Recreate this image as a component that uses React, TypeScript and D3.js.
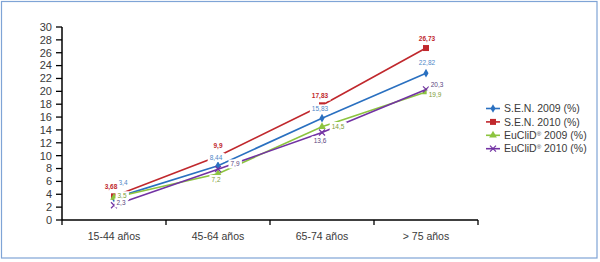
import React, { useEffect, useRef } from "react";
import * as d3 from "d3";

const categories = ["15-44 años", "45-64 años", "65-74 años", "> 75 años"];
const sen2009 = [3.4, 8.44, 15.83, 22.82];
const sen2010 = [3.68, 9.9, 17.83, 26.73];
const euclid2009 = [3.5, 7.2, 14.5, 19.9];
const euclid2010 = [2.3, 7.9, 13.6, 20.3];
const yTicks = [0, 2, 4, 6, 8, 10, 12, 14, 16, 18, 20, 22, 24, 26, 28, 30];
const seriesNames = ["S.E.N. 2009 (%)", "S.E.N. 2010 (%)", "EuCliD® 2009 (%)", "EuCliD® 2010 (%)"];

// label offsets (dx, dy) relative to each point
const labelOffsets = [
  [[9, -15], [-2, -8], [-2, -9], [1, -10]],
  [[-3, -10], [0, -10.5], [-2, -10], [1, -9]],
  [[8, -1.5], [-2, 6], [16, 0], [9, 3]],
  [[7, -2], [17, -5], [-2, 8.5], [11, -5]],
];

const lineColors = ["#2a70c0", "#c0282d", "#8cc43f", "#7232a3"];
const labelColors = ["#5088c8", "#c0282d", "#7d9c38", "#5a4680"];
const markers = ["diamond", "square", "triangle", "cross"];

export default function App() {
  const ref = useRef<SVGSVGElement>(null);

  useEffect(() => {
    const svg = d3.select(ref.current);
    svg.selectAll("*").remove();
    const W = 600, H = 262;
    const left = 62, right = 478, top = 27, bottom = 220;
    const font = "'Liberation Sans', Arial, sans-serif";

    svg.append("rect").attr("x", 1.5).attr("y", 1.5).attr("width", W - 4.5).attr("height", H - 5.5)
      .attr("fill", "white").attr("stroke", "#7fa4d6").attr("stroke-width", 1.2);

    const x = d3.scaleBand<string>().domain(categories).range([left, right]);
    const y = d3.scaleLinear().domain([0, 30]).range([bottom, top]);

    const g = svg.append("g");
    g.append("line").attr("x1", left).attr("x2", left).attr("y1", top).attr("y2", bottom)
      .attr("stroke", "#000").attr("stroke-width", 1.5);
    yTicks.forEach((t) => {
      g.append("line").attr("x1", left - 6).attr("x2", left).attr("y1", y(t)).attr("y2", y(t))
        .attr("stroke", "#000").attr("stroke-width", 1.3);
      g.append("text").attr("x", left - 10).attr("y", y(t)).attr("dy", "0.35em")
        .attr("text-anchor", "end").attr("font-family", font).attr("font-size", 11)
        .attr("fill", "#3a3a3a").text(String(t));
    });
    g.append("line").attr("x1", left).attr("x2", right).attr("y1", bottom).attr("y2", bottom)
      .attr("stroke", "#000").attr("stroke-width", 1.5);
    const bounds = categories.map((c) => x(c) as number).concat([right]);
    bounds.forEach((b) => {
      g.append("line").attr("x1", b).attr("x2", b).attr("y1", bottom).attr("y2", bottom + 5)
        .attr("stroke", "#000").attr("stroke-width", 1.3);
    });
    categories.forEach((c) => {
      g.append("text").attr("x", (x(c) as number) + x.bandwidth() / 2).attr("y", bottom + 20)
        .attr("text-anchor", "middle").attr("font-family", font).attr("font-size", 10.5)
        .attr("fill", "#3a3a3a").text(c);
    });

    const allSeries = [sen2009, sen2010, euclid2009, euclid2010];
    const cx = (i: number) => (x(categories[i]) as number) + x.bandwidth() / 2;

    const drawMarker = (sel: any, kind: string, px: number, py: number, color: string) => {
      if (kind === "diamond") {
        sel.append("path").attr("d", d3.symbol(d3.symbolDiamond, 22)()).attr("transform", `translate(${px},${py})`).attr("fill", color);
      } else if (kind === "square") {
        sel.append("rect").attr("x", px - 3).attr("y", py - 3).attr("width", 6).attr("height", 6).attr("fill", color);
      } else if (kind === "triangle") {
        sel.append("path").attr("d", d3.symbol(d3.symbolTriangle, 26)()).attr("transform", `translate(${px},${py})`).attr("fill", color);
      } else {
        sel.append("path").attr("d", `M${px - 3},${py - 3}L${px + 3},${py + 3}M${px - 3},${py + 3}L${px + 3},${py - 3}`)
          .attr("stroke", color).attr("stroke-width", 1.2);
      }
    };

    const line = d3.line<number>().x((_, i) => cx(i)).y((v) => y(v));
    const plot = svg.append("g");
    allSeries.forEach((s, si) => {
      plot.append("path").attr("d", line(s)).attr("fill", "none").attr("stroke", lineColors[si]).attr("stroke-width", 1.6);
    });
    allSeries.forEach((s, si) => {
      s.forEach((v, i) => drawMarker(plot, markers[si], cx(i), y(v), lineColors[si]));
    });

    const lab = svg.append("g");
    allSeries.forEach((s, si) => {
      s.forEach((v, i) => {
        const [dx, dy] = labelOffsets[si][i];
        const tx = cx(i) + dx, ty = y(v) + dy;
        const bg = lab.append("rect").attr("fill", "white");
        const t = lab.append("text").attr("x", tx).attr("y", ty).attr("dy", "0.35em")
          .attr("text-anchor", "middle").attr("font-family", font).attr("font-size", 6.5)
          .attr("font-weight", si === 1 ? "bold" : "normal")
          .attr("fill", labelColors[si]).text(String(v).replace(".", ","));
        const bb = (t.node() as SVGTextElement).getBBox();
        bg.attr("x", bb.x - 2).attr("y", bb.y - 1).attr("width", bb.width + 4).attr("height", bb.height + 2);
      });
    });

    const leg = svg.append("g");
    seriesNames.forEach((n, si) => {
      const ly = 108.5 + si * 13.4;
      leg.append("line").attr("x1", 486).attr("x2", 500).attr("y1", ly).attr("y2", ly)
        .attr("stroke", lineColors[si]).attr("stroke-width", 1.6);
      drawMarker(leg, markers[si], 493, ly, lineColors[si]);
      const t = leg.append("text").attr("x", 504).attr("y", ly + 3.7)
        .attr("font-family", font).attr("font-size", 10.5).attr("fill", "#3a3a3a");
      if (n.includes("®")) {
        const [a, b] = n.split("®");
        t.append("tspan").text(a);
        t.append("tspan").attr("font-size", 6).attr("dy", -3.5).text("®");
        t.append("tspan").attr("dy", 3.5).text(b);
      } else {
        t.text(n);
      }
    });
  }, []);

  return (
    <svg ref={ref} width={600} height={262}
      style={{ position: "absolute", left: 0, top: 0, display: "block", background: "white" }} />
  );
}
